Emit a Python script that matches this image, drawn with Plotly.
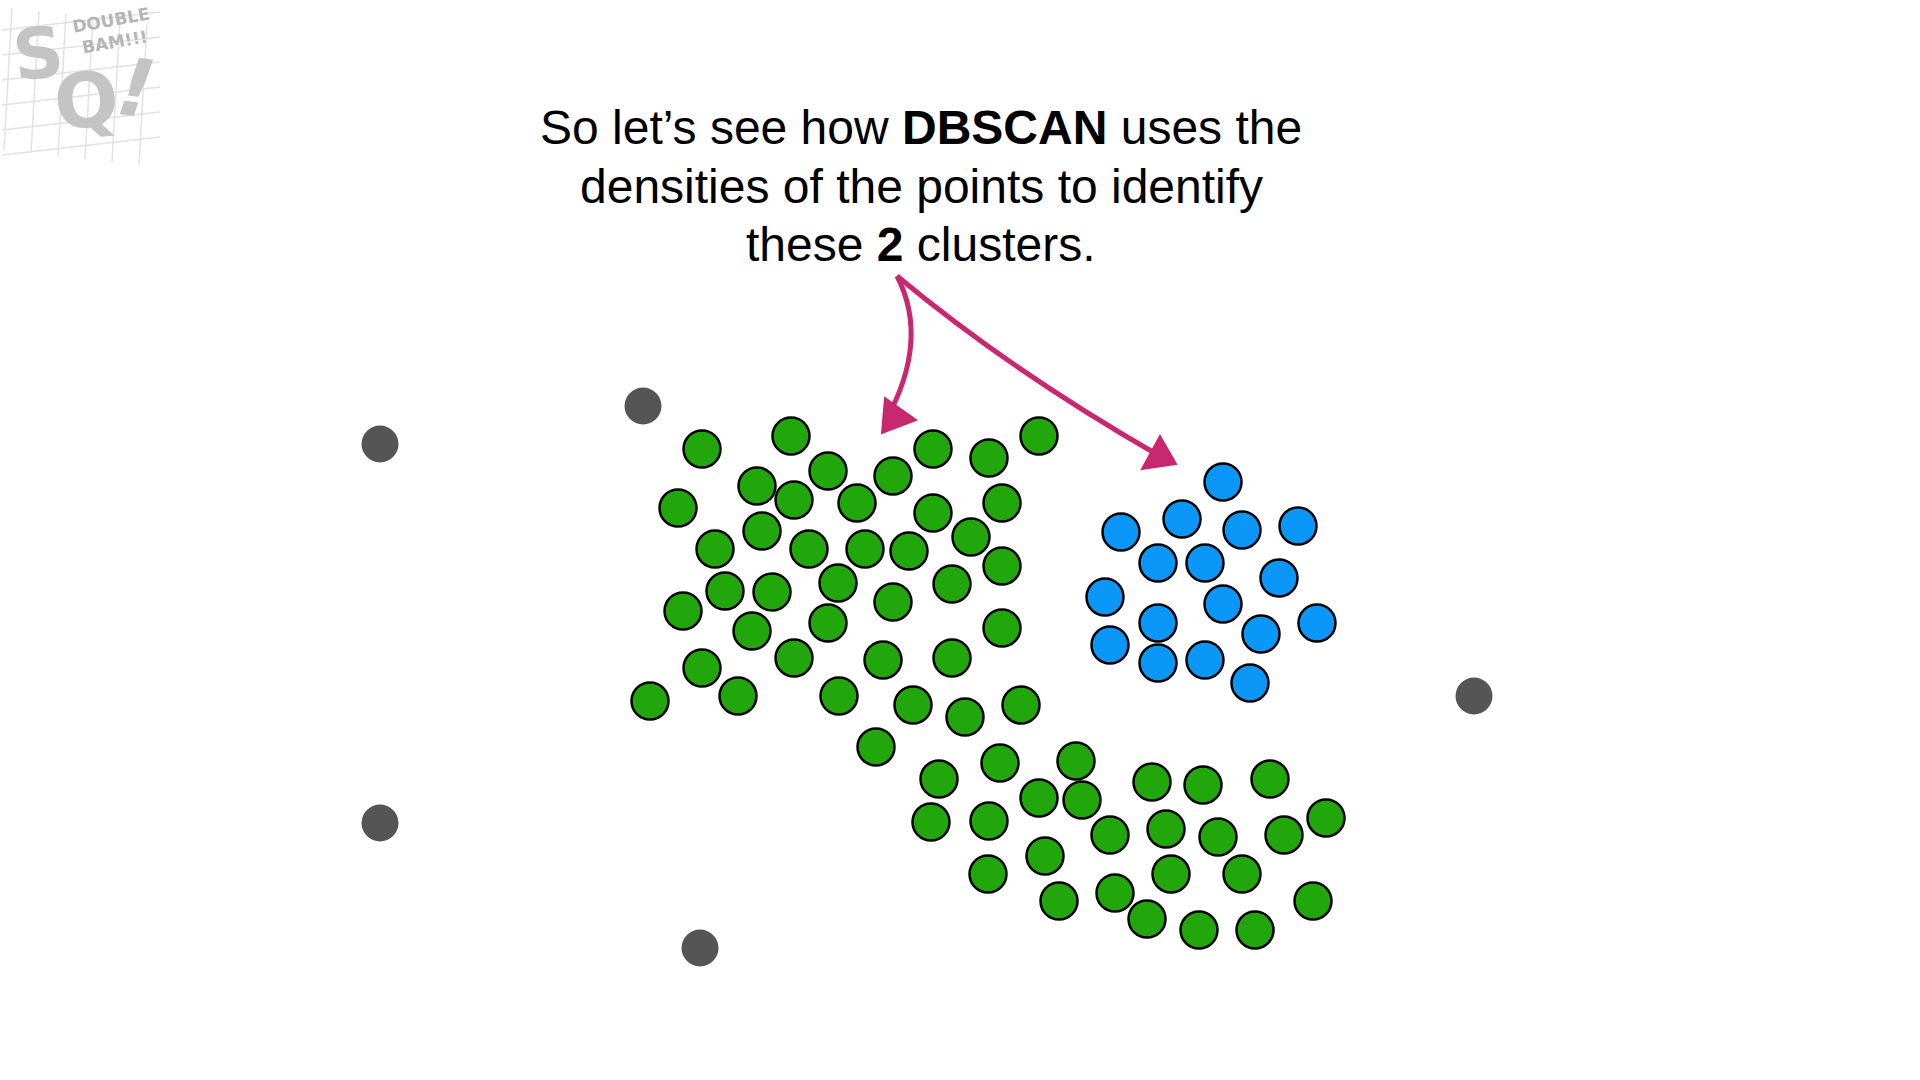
import plotly.graph_objects as go

# point positions (pixel space, y grows downward)
green_x = [702, 791, 757, 794, 828, 857, 893, 933, 989, 1039,
           678, 933, 1002, 715, 762, 809, 865, 909, 971, 1002,
           725, 772, 838, 893, 952, 683, 752, 828, 1002, 702,
           794, 883, 952, 650, 738, 839, 913, 965, 1021, 876,
           939, 1000, 1076, 1039, 1082, 1152, 1203, 1270, 931, 989,
           1110, 1166, 1218, 1284, 1326, 1045, 988, 1171, 1242, 1059,
           1115, 1147, 1199, 1255, 1313]
green_y = [449, 436, 486, 500, 471, 503, 476, 449, 458, 436,
           508, 513, 503, 549, 531, 549, 549, 551, 537, 566,
           591, 592, 583, 602, 584, 611, 631, 623, 628, 668,
           658, 660, 658, 701, 696, 696, 705, 717, 705, 747,
           779, 763, 761, 798, 800, 782, 785, 779, 822, 821,
           835, 829, 837, 835, 818, 856, 874, 874, 874, 901,
           893, 919, 930, 930, 901]

blue_x = [1223, 1182, 1121, 1242, 1298, 1158, 1205, 1279, 1105, 1223,
          1158, 1317, 1261, 1110, 1158, 1205, 1250]
blue_y = [482, 519, 532, 530, 526, 563, 563, 578, 597, 604,
          623, 623, 634, 645, 663, 660, 683]

noise_x = [380, 643, 380, 700, 1474]
noise_y = [444, 406, 823, 948, 696]

caption_lines = ["So let’s see how <b>DBSCAN</b> uses the",
                 "densities of the points to identify",
                 "these <b>2</b> clusters."]
caption_y = [127, 186, 244]

# arrow paths (curved shafts + heads)
arrow_shafts = ["M 897,276 Q 930,340 886,420", "M 897,276 Q 1010,370 1158,455"]
arrow_heads = ["M 882,433 L 885,398 L 916,420 Z", "M 1176,464 L 1160,436 L 1142,469 Z"]
pink = "#C8286F"

fig = go.Figure()
fig.add_trace(go.Scatter(x=noise_x, y=noise_y, mode="markers",
                         marker=dict(size=37, color="#555555", line=dict(width=0))))
fig.add_trace(go.Scatter(x=green_x, y=green_y, mode="markers",
                         marker=dict(size=37, color="#21A70B", line=dict(width=2.5, color="black"))))
fig.add_trace(go.Scatter(x=blue_x, y=blue_y, mode="markers",
                         marker=dict(size=37, color="#0A97F7", line=dict(width=2.5, color="black"))))

shapes = []
# faint sketch grid behind the logo
for i in range(6):
    shapes.append(dict(type="line", x0=12 + 27 * i, y0=8 + 3 * i, x1=4 + 27 * i, y1=150 + 3 * i,
                       line=dict(color="#E2E2E2", width=1.5), layer="below"))
    shapes.append(dict(type="line", x0=2, y0=30 + 25 * i, x1=160, y1=12 + 25 * i,
                       line=dict(color="#E2E2E2", width=1.5), layer="below"))
for p in arrow_shafts:
    shapes.append(dict(type="path", path=p, xref="x", yref="y", line=dict(color=pink, width=5)))
for p in arrow_heads:
    shapes.append(dict(type="path", path=p, xref="x", yref="y", fillcolor=pink, line=dict(color=pink, width=2)))

annotations = []
for line, yy in zip(caption_lines, caption_y):
    annotations.append(dict(x=921, y=yy, xref="x", yref="y", text=line, showarrow=False,
                            font=dict(family="Liberation Sans, Arial", size=48, color="black")))

# logo in the top corner
annotations += [
    dict(x=38, y=54, text="<b>S</b>", showarrow=False, textangle=-6,
         font=dict(family="DejaVu Sans", size=70, color="#C4C4C4")),
    dict(x=86, y=100, text="<b>Q</b>", showarrow=False, textangle=-6,
         font=dict(family="DejaVu Sans", size=76, color="#C4C4C4")),
    dict(x=136, y=88, text="<b><i>!</i></b>", showarrow=False, textangle=8,
         font=dict(family="DejaVu Sans", size=80, color="#C4C4C4")),
    dict(x=113, y=31, text="<b>DOUBLE<br>BAM!!!</b>", showarrow=False, textangle=-10,
         font=dict(family="DejaVu Sans", size=17, color="#B5B5B5")),
]

fig.update_layout(
    width=1920, height=1080,
    margin=dict(l=0, r=0, t=0, b=0),
    paper_bgcolor="white", plot_bgcolor="white",
    showlegend=False,
    xaxis=dict(range=[0, 1920], visible=False, fixedrange=True),
    yaxis=dict(range=[1080, 0], visible=False, fixedrange=True),
    shapes=shapes, annotations=annotations,
)

fig.write_html("out.html", config={"displayModeBar": False},
               post_script="document.body.style.margin='0';")
